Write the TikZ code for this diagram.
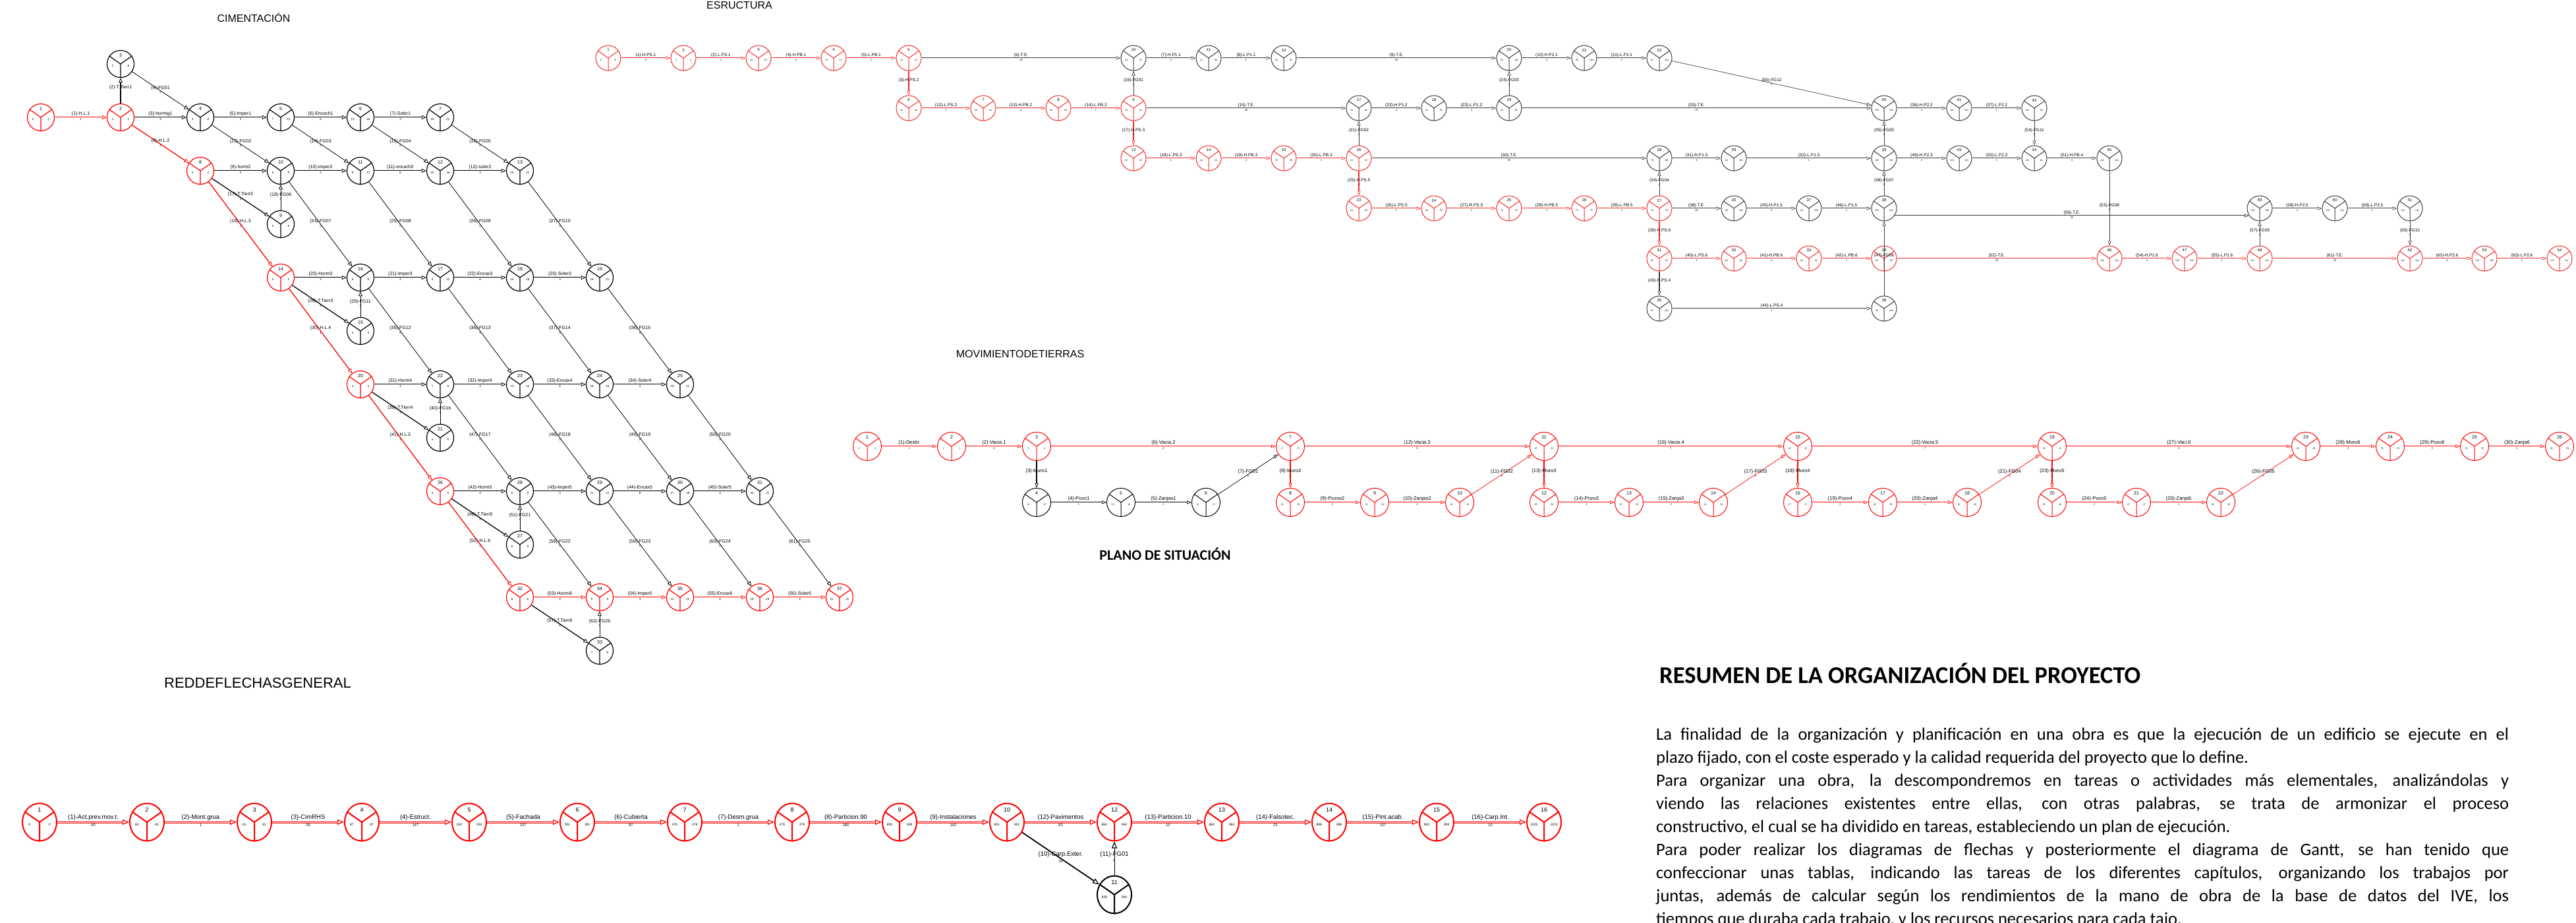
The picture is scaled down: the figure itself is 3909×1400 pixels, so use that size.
\documentclass[tikz,border=0pt]{standalone}
\usepackage{fontspec}
\setmainfont{Liberation Sans}
\newfontfamily\calibri{Carlito}
\usetikzlibrary{arrows.meta,calc,shapes.geometric}
\definecolor{estred}{RGB}{240,45,45}
\definecolor{estgray}{RGB}{60,60,60}
\newcommand\fsz[1]{\fontsize{#1}{#1}\selectfont}
% event node: style, name, x, y, colour, number, left, right
\newcommand\ev[8]{%
  \node[#1,draw=#5] (#2) at (#3,#4) {};
  \draw[#5,#1line] (#2.center) -- (#2.145) (#2.center) -- (#2.35) (#2.center) -- (#2.south);
  \node[#1num] at ($(#2.center)!0.62!(#2.north)$) {#6};
  \node[#1val] at ($(#2.center)!0.58!(#2.195)$) {#7};
  \node[#1val] at ($(#2.center)!0.58!(#2.-15)$) {#8};
}
\newcommand\ed[5][]{\draw[#1] (#2) -- node[lab,above]{#4} node[dur,below]{#5} (#3);}
\tikzset{
  cim/.style={circle,minimum size=41pt,inner sep=0pt,line width=1.2pt},
  cimline/.style={line width=1.2pt},
  cimnum/.style={font=\fsz{7},inner sep=0pt},
  cimval/.style={font=\fsz{4.5},inner sep=0pt},
  est/.style={circle,minimum size=38pt,inner sep=0pt,line width=1pt},
  estline/.style={line width=1pt},
  estnum/.style={font=\fsz{6},inner sep=0pt},
  estval/.style={font=\fsz{3.5},inner sep=0pt},
  mov/.style={circle,minimum size=43pt,inner sep=0pt,line width=1pt},
  movline/.style={line width=1pt},
  movnum/.style={font=\fsz{7},inner sep=0pt},
  movval/.style={font=\fsz{3.5},inner sep=0pt},
  gen/.style={ellipse,minimum width=52pt,minimum height=57pt,inner sep=0pt,line width=2pt},
  genline/.style={line width=2pt},
  gennum/.style={font=\fsz{9},inner sep=0pt},
  genval/.style={font=\fsz{5},inner sep=0pt},
  ttl/.style={font=\fsz{16},inner sep=0pt,anchor=base},
  para/.style={font=\calibri\fsz{26.5},inner sep=0pt,anchor=base west}
}
\begin{document}
\begin{tikzpicture}[x=1pt,y=-1pt]
\useasboundingbox (0,0) rectangle (3909,1400);
\fill[white] (0,0) rectangle (3909,1400);
\clip (0,0) rectangle (3909,1400);

% ---------------- titles ----------------
\node[ttl] (tcim) at (385,33) {CIMENTACIÓN};
\node[ttl] (test) at (1122,13) {ESRUCTURA};
\node[ttl] (tmov) at (1548,542) {MOVIMIENTODETIERRAS};
\node[ttl,font=\fsz{22}] (tgen) at (391,1043) {REDDEFLECHASGENERAL};
\node[anchor=base,inner sep=0pt,font=\calibri\bfseries\fsz{22}] (tplano) at (1768,849) {PLANO DE SITUACIÓN};
\node[anchor=base west,inner sep=0pt,font=\calibri\bfseries\fsz{36.5}] (tres) at (2518,1036) {RESUMEN DE LA ORGANIZACIÓN DEL PROYECTO};

% ---------------- paragraph ----------------
\node[para] (p1) at (2513,1122) {\makebox[1294pt][s]{La finalidad de la organización y planificación en una obra es que la ejecución de un edificio se ejecute en el}};
\node[para] (p2) at (2513,1157) {plazo fijado, con el coste esperado y la calidad requerida del proyecto que lo define.};
\node[para] (p3) at (2513,1192) {\makebox[1294pt][s]{Para organizar una obra, la descompondremos en tareas o actividades más elementales, analizándolas y}};
\node[para] (p4) at (2513,1227) {\makebox[1294pt][s]{viendo las relaciones existentes entre ellas, con otras palabras, se trata de armonizar el proceso}};
\node[para] (p5) at (2513,1262) {constructivo, el cual se ha dividido en tareas, estableciendo un plan de ejecución.};
\node[para] (p6) at (2513,1297) {\makebox[1294pt][s]{Para poder realizar los diagramas de flechas y posteriormente el diagrama de Gantt, se han tenido que}};
\node[para] (p7) at (2513,1332) {\makebox[1294pt][s]{confeccionar unas tablas, indicando las tareas de los diferentes capítulos, organizando los trabajos por}};
\node[para] (p8) at (2513,1367) {\makebox[1294pt][s]{juntas, además de calcular según los rendimientos de la mano de obra de la base de datos del IVE, los}};
\node[para] (p9) at (2513,1402) {tiempos que duraba cada trabajo, y los recursos necesarios para cada tajo.};

% ================= CIMENTACION =================
\begin{scope}[
  lab/.style={font=\fsz{7},inner sep=0.6pt,text=black},
  dur/.style={font=\fsz{4.5},inner sep=0.6pt,text=black},
  hact/.style={line width=2.2pt,-{Triangle[open,length=7pt,width=6pt,line width=0.8pt]},postaction={draw=white,line width=0.6pt,-,shorten >=7pt}},
  sact/.style={line width=1.3pt,-{Triangle[open,length=7pt,width=6pt,line width=0.8pt]}},
  fict/.style={line width=0.8pt,-{Triangle[open,length=7pt,width=6pt,line width=0.8pt]}}]
\ev{cim}{c1}{62}{178}{red}{1}{0}{0}
\ev{cim}{c2}{183}{178}{red}{2}{1}{1}
\ev{cim}{c3}{183}{97}{black}{3}{2}{8}
\ev{cim}{c4}{304}{178}{black}{4}{4}{8}
\ev{cim}{c5}{426}{178}{black}{5}{7}{12}
\ev{cim}{c6}{547}{178}{black}{6}{13}{16}
\ev{cim}{c7}{668}{178}{black}{7}{16}{21}
\ev{cim}{c8}{304}{259}{red}{8}{2}{2}
\ev{cim}{c9}{426}{340}{black}{9}{3}{9}
\ev{cim}{c10}{426}{259}{black}{10}{6}{9}
\ev{cim}{c11}{547}{259}{black}{11}{9}{12}
\ev{cim}{c12}{668}{259}{black}{12}{15}{16}
\ev{cim}{c13}{789}{259}{black}{13}{18}{21}
\ev{cim}{c14}{426}{421}{red}{14}{3}{3}
\ev{cim}{c15}{547}{502}{black}{15}{4}{9}
\ev{cim}{c16}{547}{421}{black}{16}{6}{9}
\ev{cim}{c17}{668}{421}{black}{17}{9}{12}
\ev{cim}{c18}{789}{421}{black}{18}{15}{18}
\ev{cim}{c19}{910}{421}{black}{19}{18}{21}
\ev{cim}{c20}{547}{583}{red}{20}{4}{4}
\ev{cim}{c21}{668}{664}{black}{21}{5}{9}
\ev{cim}{c22}{668}{583}{black}{22}{7}{9}
\ev{cim}{c23}{789}{583}{black}{23}{10}{12}
\ev{cim}{c24}{910}{583}{black}{24}{16}{18}
\ev{cim}{c25}{1032}{583}{black}{25}{19}{21}
\ev{cim}{c26}{668}{745}{red}{26}{5}{5}
\ev{cim}{c27}{789}{826}{black}{27}{6}{9}
\ev{cim}{c28}{789}{745}{black}{28}{8}{9}
\ev{cim}{c29}{910}{745}{black}{29}{11}{12}
\ev{cim}{c30}{1032}{745}{black}{30}{17}{18}
\ev{cim}{c31}{1153}{745}{black}{31}{20}{21}
\ev{cim}{c32}{789}{906}{red}{32}{6}{6}
\ev{cim}{c33}{910}{987}{black}{33}{7}{9}
\ev{cim}{c34}{910}{906}{red}{34}{9}{9}
\ev{cim}{c35}{1032}{906}{red}{35}{12}{12}
\ev{cim}{c36}{1153}{906}{red}{36}{18}{18}
\ev{cim}{c37}{1274}{906}{red}{37}{21}{21}
\ed[hact,red]{c1}{c2}{(1)-H.L.1}{1}
\ed[sact]{c2}{c3}{(2)-T.Tierr1}{1}
\ed[hact]{c2}{c4}{(3)-hormig1}{3}
\ed[fict]{c3}{c4}{(4)-FG01}{0}
\ed[hact]{c4}{c5}{(5)-Imper1}{3}
\ed[hact]{c5}{c6}{(6)-Encach1}{6}
\ed[hact]{c6}{c7}{(7)-Soler1}{3}
\ed[sact,red]{c2}{c8}{(8)-H.L.2}{1}
\ed[hact]{c8}{c10}{(9)-horm2}{3}
\ed[hact]{c10}{c11}{(10)-imper2}{3}
\ed[hact]{c11}{c12}{(11)-encach2}{6}
\ed[hact]{c12}{c13}{(12)-soler2}{3}
\ed[fict]{c4}{c10}{(13)-FG02}{0}
\ed[fict]{c5}{c11}{(14)-FG03}{0}
\ed[fict]{c6}{c12}{(15)-FG04}{0}
\ed[fict]{c7}{c13}{(16)-FG05}{0}
\ed[sact]{c8}{c9}{(17)-T.Tierr2}{1}
\ed[fict]{c9}{c10}{(18)-FG06}{0}
\ed[sact,red]{c8}{c14}{(19)-H.L.3}{1}
\ed[hact]{c14}{c16}{(20)-Horm3}{3}
\ed[hact]{c16}{c17}{(21)-Imper3}{3}
\ed[hact]{c17}{c18}{(22)-Encax3}{6}
\ed[hact]{c18}{c19}{(23)-Soler3}{3}
\ed[fict]{c10}{c16}{(24)-FG07}{0}
\ed[fict]{c11}{c17}{(25)-FG08}{0}
\ed[fict]{c12}{c18}{(26)-FG09}{0}
\ed[fict]{c13}{c19}{(27)-FG10}{0}
\ed[sact]{c14}{c15}{(28)-T.Tierr3}{1}
\ed[fict]{c15}{c16}{(29)-FG11}{0}
\ed[sact,red]{c14}{c20}{(30)-H.L.4}{1}
\ed[hact]{c20}{c22}{(31)-Horm4}{3}
\ed[hact]{c22}{c23}{(32)-Imper4}{3}
\ed[hact]{c23}{c24}{(33)-Encax4}{6}
\ed[hact]{c24}{c25}{(34)-Soler4}{3}
\ed[fict]{c16}{c22}{(35)-FG12}{0}
\ed[fict]{c17}{c23}{(36)-FG13}{0}
\ed[fict]{c18}{c24}{(37)-FG14}{0}
\ed[fict]{c19}{c25}{(38)-FG15}{0}
\ed[sact]{c20}{c21}{(39)-T.Tierr4}{1}
\ed[fict]{c21}{c22}{(40)-FG16}{0}
\ed[sact,red]{c20}{c26}{(41)-H.L.5}{1}
\ed[hact]{c26}{c28}{(42)-Horm5}{3}
\ed[hact]{c28}{c29}{(43)-Imper5}{3}
\ed[hact]{c29}{c30}{(44)-Encax5}{6}
\ed[hact]{c30}{c31}{(45)-Soler5}{3}
\ed[sact]{c26}{c27}{(46)-T.Tierr5}{1}
\ed[fict]{c22}{c28}{(47)-FG17}{0}
\ed[fict]{c23}{c29}{(48)-FG18}{0}
\ed[fict]{c24}{c30}{(49)-FG19}{0}
\ed[fict]{c25}{c31}{(50)-FG20}{0}
\ed[fict]{c27}{c28}{(51)-FG21}{0}
\ed[sact,red]{c26}{c32}{(52)-H.L.6}{1}
\ed[hact,red]{c32}{c34}{(53)-Hormi6}{3}
\ed[hact,red]{c34}{c35}{(54)-Imper6}{3}
\ed[hact,red]{c35}{c36}{(55)-Encax6}{6}
\ed[hact,red]{c36}{c37}{(56)-Soler6}{3}
\ed[sact]{c32}{c33}{(57)-T.Tierr6}{1}
\ed[fict]{c28}{c34}{(58)-FG22}{0}
\ed[fict]{c29}{c35}{(59)-FG23}{0}
\ed[fict]{c30}{c36}{(60)-FG24}{0}
\ed[fict]{c31}{c37}{(61)-FG25}{0}
\ed[fict]{c33}{c34}{(62)-FG26}{0}
\end{scope}

% ================= ESTRUCTURA =================
\begin{scope}[
  lab/.style={font=\fsz{6.5},inner sep=0.6pt,text=black},
  dur/.style={font=\fsz{4},inner sep=0.6pt,text=black},
  hact/.style={line width=2pt,-{Triangle[open,length=7pt,width=5pt,line width=0.7pt]},postaction={draw=white,line width=0.6pt,-,shorten >=7pt}},
  sact/.style={line width=1.1pt,-{Triangle[open,length=7pt,width=5pt,line width=0.7pt]}},
  fict/.style={line width=0.7pt,-{Triangle[open,length=7pt,width=5pt,line width=0.7pt]}}]
\ev{est}{e1}{923}{88}{estred}{1}{0}{0}
\ev{est}{e2}{1037}{88}{estred}{2}{4}{4}
\ev{est}{e3}{1151}{88}{estred}{3}{10}{10}
\ev{est}{e4}{1265}{88}{estred}{4}{13}{13}
\ev{est}{e5}{1379}{88}{estred}{5}{14}{14}
\ev{est}{e10}{1720}{88}{estgray}{10}{34}{75}
\ev{est}{e11}{1834}{88}{estgray}{11}{41}{80}
\ev{est}{e12}{1948}{88}{estgray}{12}{43}{81}
\ev{est}{e20}{2290}{88}{estgray}{20}{63}{101}
\ev{est}{e21}{2404}{88}{estgray}{21}{66}{104}
\ev{est}{e22}{2518}{88}{estgray}{22}{67}{104}
\ev{est}{e6}{1379}{164}{estred}{6}{18}{18}
\ev{est}{e7}{1492}{164}{estred}{7}{24}{24}
\ev{est}{e8}{1606}{164}{estred}{8}{28}{28}
\ev{est}{e9}{1720}{164}{estred}{9}{34}{34}
\ev{est}{e17}{2062}{164}{estgray}{17}{54}{60}
\ev{est}{e18}{2176}{164}{estgray}{18}{61}{65}
\ev{est}{e19}{2290}{164}{estgray}{19}{63}{66}
\ev{est}{e40}{2859}{164}{estgray}{40}{103}{104}
\ev{est}{e41}{2973}{164}{estgray}{41}{104}{110}
\ev{est}{e42}{3087}{164}{estgray}{42}{110}{111}
\ev{est}{e13}{1720}{240}{estred}{13}{43}{43}
\ev{est}{e14}{1834}{240}{estred}{14}{44}{44}
\ev{est}{e15}{1948}{240}{estred}{15}{50}{50}
\ev{est}{e16}{2062}{240}{estred}{16}{54}{54}
\ev{est}{e28}{2518}{240}{estgray}{28}{79}{100}
\ev{est}{e29}{2631}{240}{estgray}{29}{84}{103}
\ev{est}{e39}{2859}{240}{estgray}{39}{103}{104}
\ev{est}{e43}{2973}{240}{estgray}{43}{104}{110}
\ev{est}{e44}{3087}{240}{estgray}{44}{110}{111}
\ev{est}{e45}{3201}{240}{estgray}{45}{114}{118}
\ev{est}{e23}{2062}{316}{estred}{23}{58}{58}
\ev{est}{e24}{2176}{316}{estred}{24}{64}{64}
\ev{est}{e25}{2290}{316}{estred}{25}{70}{70}
\ev{est}{e26}{2404}{316}{estred}{26}{75}{75}
\ev{est}{e27}{2518}{316}{estred}{27}{79}{79}
\ev{est}{e30}{2631}{316}{estgray}{30}{89}{103}
\ev{est}{e37}{2745}{316}{estgray}{37}{94}{108}
\ev{est}{e38}{2859}{316}{estgray}{38}{103}{104}
\ev{est}{e49}{3429}{316}{estgray}{49}{138}{138}
\ev{est}{e50}{3543}{316}{estgray}{50}{140}{143}
\ev{est}{e51}{3657}{316}{estgray}{51}{141}{141}
\ev{est}{e31}{2518}{392}{estred}{31}{83}{83}
\ev{est}{e32}{2631}{392}{estred}{32}{88}{88}
\ev{est}{e33}{2745}{392}{estred}{33}{91}{91}
\ev{est}{e34}{2859}{392}{estred}{34}{93}{93}
\ev{est}{e46}{3201}{392}{estred}{46}{118}{118}
\ev{est}{e47}{3315}{392}{estred}{47}{130}{130}
\ev{est}{e48}{3429}{392}{estred}{48}{131}{131}
\ev{est}{e52}{3657}{392}{estred}{52}{141}{141}
\ev{est}{e53}{3770}{392}{estred}{53}{146}{146}
\ev{est}{e54}{3884}{392}{estred}{54}{147}{147}
\ev{est}{e35}{2518}{468}{estgray}{35}{87}{104}
\ev{est}{e36}{2859}{468}{estgray}{36}{94}{104}
\ed[hact,estred]{e1}{e2}{(1)-H.PS.1}{4}
\ed[hact,estred]{e2}{e3}{(2)-L.PS.1}{1}
\ed[hact,estred]{e3}{e4}{(4)-H.PB.1}{4}
\ed[hact,estred]{e4}{e5}{(5)-L.PB.1}{1}
\ed[hact,estgray]{e5}{e10}{(6)-T.E.}{20}
\ed[hact,estgray]{e10}{e11}{(7)-H.P1.1}{4}
\ed[hact,estgray]{e11}{e12}{(8)-L.P1.1}{1}
\ed[hact,estgray]{e12}{e20}{(9)-T.E.}{20}
\ed[hact,estgray]{e20}{e21}{(10)-H.P2.1}{4}
\ed[hact,estgray]{e21}{e22}{(11)-L.P2.1}{1}
\ed[sact,estred]{e5}{e6}{(3)-H.PS.2}{4}
\ed[hact,estred]{e6}{e7}{(12)-L.PS.2}{1}
\ed[hact,estred]{e7}{e8}{(13)-H.PB.2}{4}
\ed[hact,estred]{e8}{e9}{(14)-L.PB.2}{1}
\ed[fict,estgray]{e9}{e10}{(16)-FG01}{0}
\ed[hact,estgray]{e9}{e17}{(15)-T.E.}{20}
\ed[hact,estgray]{e17}{e18}{(22)-H.P1.2}{4}
\ed[hact,estgray]{e18}{e19}{(23)-L.P1.2}{1}
\ed[fict,estgray]{e16}{e17}{(21)-FG02}{0}
\ed[fict,estgray]{e19}{e20}{(24)-FG03}{0}
\ed[hact,estgray]{e19}{e40}{(33)-T.E.}{20}
\ed[hact,estgray]{e40}{e41}{(36)-H.P2.2}{4}
\ed[hact,estgray]{e41}{e42}{(37)-L.P2.2}{1}
\ed[fict,estgray]{e22}{e40}{(55)-FG12}{0}
\ed[sact,estred]{e9}{e13}{(17)-H.PS.3}{4}
\ed[hact,estred]{e13}{e14}{(18)-L.PS.3}{1}
\ed[hact,estred]{e14}{e15}{(19)-H.PB.3}{4}
\ed[hact,estred]{e15}{e16}{(20)-L.PB.3}{1}
\ed[hact,estgray]{e16}{e28}{(30)-T.E.}{20}
\ed[hact,estgray]{e28}{e29}{(31)-H.P1.3}{4}
\ed[hact,estgray]{e29}{e39}{(32)-L.P1.3}{1}
\ed[fict,estgray]{e39}{e40}{(35)-FG05}{0}
\ed[hact,estgray]{e39}{e43}{(49)-H.P2.3}{4}
\ed[hact,estgray]{e43}{e44}{(50)-L.P2.3}{1}
\ed[hact,estgray]{e44}{e45}{(51)-H.PB.4}{4}
\ed[fict,estgray]{e42}{e44}{(54)-FG11}{0}
\ed[sact,estred]{e16}{e23}{(25)-H.PS.5}{4}
\ed[hact,estred]{e23}{e24}{(26)-L.PS.5}{1}
\ed[hact,estred]{e24}{e25}{(27)-R.PS.5}{1}
\ed[hact,estred]{e25}{e26}{(28)-H.PB.5}{4}
\ed[hact,estred]{e26}{e27}{(29)-L.PB.5}{1}
\ed[fict,estgray]{e27}{e28}{(34)-FG04}{0}
\ed[hact,estgray]{e27}{e30}{(38)-T.E.}{20}
\ed[hact,estgray]{e30}{e37}{(45)-H.P1.5}{4}
\ed[hact,estgray]{e37}{e38}{(46)-L.P1.5}{1}
\ed[fict,estgray]{e38}{e39}{(48)-FG07}{0}
\draw[hact,estgray] (e38.-35) -- node[lab,above]{(56)-T.E.} node[dur,below]{33} (e49.-145);
\ed[hact,estgray]{e49}{e50}{(58)-H.P2.5}{4}
\ed[hact,estgray]{e50}{e51}{(59)-L.P2.5}{1}
\ed[fict,estgray]{e48}{e49}{(57)-FG09}{0}
\ed[fict,estgray]{e51}{e52}{(60)-FG10}{0}
\ed[sact,estred]{e27}{e31}{(39)-H.PS.6}{4}
\ed[hact,estred]{e31}{e32}{(40)-L.PS.6}{1}
\ed[hact,estred]{e32}{e33}{(41)-H.PB.6}{4}
\ed[hact,estred]{e33}{e34}{(42)-L.PB.6}{1}
\ed[hact,estred]{e34}{e46}{(52)-T.E.}{33}
\ed[hact,estred]{e46}{e47}{(54)-H.P1.6}{4}
\ed[hact,estred]{e47}{e48}{(55)-L.P1.6}{1}
\ed[hact,estred]{e48}{e52}{(61)-T.E.}{33}
\ed[hact,estred]{e52}{e53}{(62)-H.P2.6}{4}
\ed[hact,estred]{e53}{e54}{(63)-L.P2.6}{1}
\ed[fict,estgray]{e45}{e46}{(53)-FG08}{0}
\ed[fict,estgray]{e36}{e38}{(47)-FG06}{0}
\ed[sact,estgray]{e31}{e35}{(43)-H.PS.4}{4}
\ed[hact,estgray]{e35}{e36}{(44)-L.PS.4}{1}
\end{scope}

% ================= MOVIMIENTO DE TIERRAS =================
\begin{scope}[
  lab/.style={font=\fsz{7.5},inner sep=0.6pt,text=black},
  dur/.style={font=\fsz{4},inner sep=0.6pt,text=black},
  hact/.style={line width=2pt,-{Triangle[open,length=7pt,width=5pt,line width=0.7pt]},postaction={draw=white,line width=0.6pt,-,shorten >=7pt}},
  sact/.style={line width=1.1pt,-{Triangle[open,length=7pt,width=5pt,line width=0.7pt]}},
  fict/.style={line width=0.7pt,-{Triangle[open,length=7pt,width=5pt,line width=0.7pt]}}]
\ev{mov}{m1}{1316}{677}{red}{1}{0}{0}
\ev{mov}{m2}{1444}{677}{red}{2}{1}{1}
\ev{mov}{m3}{1573}{677}{red}{3}{9}{9}
\ev{mov}{m7}{1958}{677}{red}{7}{17}{17}
\ev{mov}{m11}{2343}{677}{red}{11}{25}{25}
\ev{mov}{m15}{2728}{677}{red}{15}{33}{33}
\ev{mov}{m19}{3114}{677}{red}{19}{41}{41}
\ev{mov}{m23}{3499}{677}{red}{23}{49}{49}
\ev{mov}{m24}{3627}{677}{red}{24}{53}{53}
\ev{mov}{m25}{3755}{677}{red}{25}{55}{55}
\ev{mov}{m26}{3884}{677}{red}{26}{59}{59}
\ev{mov}{m4}{1573}{762}{black}{4}{12}{15}
\ev{mov}{m5}{1701}{762}{black}{5}{13}{16}
\ev{mov}{m6}{1830}{762}{black}{6}{14}{17}
\ev{mov}{m8}{1958}{762}{red}{8}{20}{20}
\ev{mov}{m9}{2086}{762}{red}{9}{22}{22}
\ev{mov}{m10}{2215}{762}{red}{10}{24}{24}
\ev{mov}{m12}{2343}{762}{red}{12}{28}{28}
\ev{mov}{m13}{2472}{762}{red}{13}{30}{30}
\ev{mov}{m14}{2600}{762}{red}{14}{32}{32}
\ev{mov}{m16}{2728}{762}{red}{16}{37}{37}
\ev{mov}{m17}{2857}{762}{red}{17}{39}{39}
\ev{mov}{m18}{2985}{762}{red}{18}{40}{40}
\ev{mov}{m20}{3114}{762}{red}{20}{45}{45}
\ev{mov}{m21}{3242}{762}{red}{21}{47}{47}
\ev{mov}{m22}{3370}{762}{red}{22}{48}{48}
\ed[hact,red]{m1}{m2}{(1)-Desbr.}{1}
\ed[hact,red]{m2}{m3}{(2)-Vacia.1}{8}
\ed[hact,red]{m3}{m7}{(6)-Vacia.2}{8}
\ed[sact]{m3}{m4}{(3)-Muro1}{3}
\ed[hact]{m4}{m5}{(4)-Pozo1}{1}
\ed[hact]{m5}{m6}{(5)-Zanjas1}{1}
\ed[fict]{m6}{m7}{(7)-FG01}{0}
\ed[sact,red]{m7}{m8}{(8)-Muro2}{3}
\ed[hact,red]{m8}{m9}{(9)-Pozos2}{2}
\ed[hact,red]{m9}{m10}{(10)-Zanjas2}{2}
\ed[fict,red]{m10}{m11}{(11)-FG02}{0}
\ed[hact,red]{m7}{m11}{(12)-Vacia.3}{8}
\ed[sact,red]{m11}{m12}{(13)-Muro3}{3}
\ed[hact,red]{m12}{m13}{(14)-Pozo3}{2}
\ed[hact,red]{m13}{m14}{(15)-Zanja3}{2}
\ed[fict,red]{m14}{m15}{(17)-FG03}{0}
\ed[hact,red]{m11}{m15}{(16)-Vacia.4}{7}
\ed[sact,red]{m15}{m16}{(18)-Muro4}{4}
\ed[hact,red]{m16}{m17}{(19)-Pozo4}{2}
\ed[hact,red]{m17}{m18}{(20)-Zanja4}{1}
\ed[fict,red]{m18}{m19}{(21)-FG04}{0}
\ed[hact,red]{m15}{m19}{(22)-Vacia.5}{7}
\ed[sact,red]{m19}{m20}{(23)-Muro5}{4}
\ed[hact,red]{m20}{m21}{(24)-Pozo5}{2}
\ed[hact,red]{m21}{m22}{(25)-Zanja5}{1}
\ed[fict,red]{m22}{m23}{(26)-FG05}{0}
\ed[hact,red]{m19}{m23}{(27)-Vaci.6}{8}
\ed[hact,red]{m23}{m24}{(28)-Muro6}{4}
\ed[hact,red]{m24}{m25}{(29)-Pozo6}{2}
\ed[hact,red]{m25}{m26}{(30)-Zanja6}{4}
\end{scope}

% ================= RED DE FLECHAS GENERAL =================
\begin{scope}[
  lab/.style={font=\fsz{9.5},inner sep=0.8pt,text=black},
  dur/.style={font=\fsz{5.5},inner sep=1.5pt,text=black},
  hact/.style={line width=3pt,-{Triangle[open,length=10pt,width=8pt,line width=1.2pt]},postaction={draw=white,line width=0.9pt,-,shorten >=10pt}},
  sact/.style={line width=1.8pt,-{Triangle[open,length=10pt,width=8pt,line width=1.2pt]}},
  fict/.style={line width=1pt,-{Triangle[open,length=10pt,width=8pt,line width=1.2pt]}}]
\ev{gen}{g1}{60}{1247}{red}{1}{0}{0}
\ev{gen}{g2}{223}{1247}{red}{2}{60}{60}
\ev{gen}{g3}{386}{1247}{red}{3}{61}{61}
\ev{gen}{g4}{549}{1247}{red}{4}{87}{87}
\ev{gen}{g5}{712}{1247}{red}{5}{234}{234}
\ev{gen}{g6}{876}{1247}{red}{6}{391}{391}
\ev{gen}{g7}{1039}{1247}{red}{7}{478}{478}
\ev{gen}{g8}{1202}{1247}{red}{8}{479}{479}
\ev{gen}{g9}{1365}{1247}{red}{9}{659}{659}
\ev{gen}{g10}{1528}{1247}{red}{10}{801}{801}
\ev{gen}{g12}{1691}{1247}{red}{12}{864}{864}
\ev{gen}{g13}{1854}{1247}{red}{13}{864}{864}
\ev{gen}{g14}{2017}{1247}{red}{14}{886}{886}
\ev{gen}{g15}{2180}{1247}{red}{15}{993}{993}
\ev{gen}{g16}{2343}{1247}{red}{16}{1003}{1003}
\ev{gen}{g11}{1691}{1357}{black}{11}{838}{864}
\ed[hact,red]{g1}{g2}{(1)-Act.prev.mov.t.}{60}
\ed[hact,red]{g2}{g3}{(2)-Mont.grua}{1}
\ed[hact,red]{g3}{g4}{(3)-CimRHS}{26}
\ed[hact,red]{g4}{g5}{(4)-Estruct.}{147}
\ed[hact,red]{g5}{g6}{(5)-Fachada}{157}
\ed[hact,red]{g6}{g7}{(6)-Cubierta}{87}
\ed[hact,red]{g7}{g8}{(7)-Desm.grua}{1}
\ed[hact,red]{g8}{g9}{(8)-Particion.90}{180}
\ed[hact,red]{g9}{g10}{(9)-Instalaciones}{142}
\ed[hact,red]{g10}{g12}{(12)-Pavimentos}{63}
\ed[hact,red]{g12}{g13}{(13)-Particion.10}{10}
\ed[hact,red]{g13}{g14}{(14)-Falsotec.}{22}
\ed[hact,red]{g14}{g15}{(15)-Pint.acab.}{107}
\ed[hact,red]{g15}{g16}{(16)-Carp.Int.}{10}
\ed[sact]{g10}{g11}{(10)-Carp.Exter.}{34}
\ed[fict]{g11}{g12}{(11)-FG01}{0}
\end{scope}
\end{tikzpicture}
\end{document}
